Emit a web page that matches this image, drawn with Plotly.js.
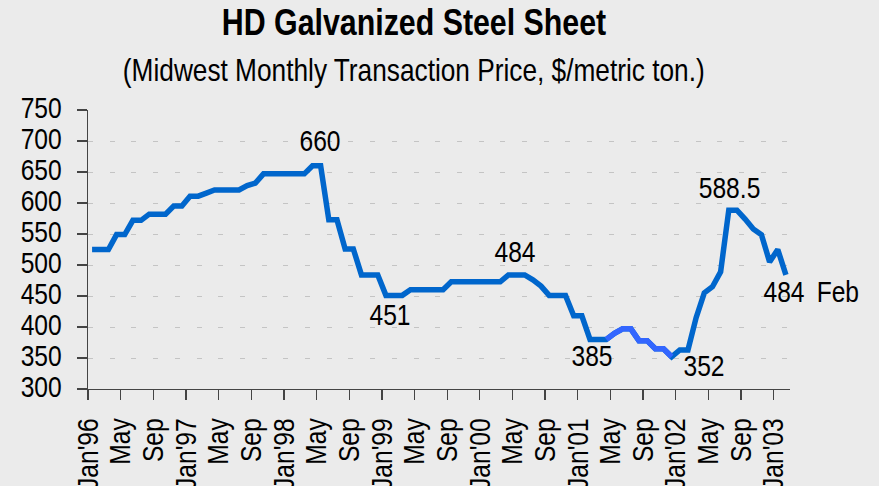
<!DOCTYPE html>
<html>
<head>
<meta charset="utf-8">
<script src="https://cdn.plot.ly/plotly-3.0.1.min.js"></script>
<style>html,body{margin:0;padding:0;background:#EBEBEB;}#chart{width:879px;height:486px;}</style>
</head>
<body>
<div id="chart"></div>
<script>
// Monthly prices, Jan 1996 .. Feb 2003 ($/metric ton)
const prices = [
  525, 525, 525, 549, 549, 572, 572, 582, 582, 582, 595, 595,   // 1996
  611, 611, 616, 621, 621, 621, 621, 628, 632, 647, 647, 647,   // 1997
  647, 647, 647, 660, 660, 573, 573, 526, 526, 484, 484, 484,   // 1998
  451, 451, 451, 460, 460, 460, 460, 460, 473, 473, 473, 473,   // 1999
  473, 473, 473, 484, 484, 484, 476, 466, 451, 451, 451, 418,   // 2000
  418, 380, 380, 380, 390, 397, 397, 378, 378, 365, 365, 352,   // 2001
  363, 363, 415, 455, 465, 489, 588.5, 588.5, 574, 558, 549, 505, // 2002
  525, 484                                                     // 2003
];
const tickLabels = ["Jan'96","May","Sep","Jan'97","May","Sep","Jan'98","May","Sep",
  "Jan'99","May","Sep","Jan'00","May","Sep","Jan'01","May","Sep","Jan'02","May","Sep","Jan'03"];
const highlightStart = 63, highlightEnd = 71; // lighter-blue stretch
const labelMonths = [28, 37, 52, 62, 71, 78, 85];
const labelTexts  = ["660", "451", "484", "385", "352", "588.5", "484"];

const FONT = '"Liberation Sans", Arial, sans-serif';
const NARROW = 0.82; // horizontal squeeze to imitate a narrow face
const xs = prices.map((_, i) => i + 0.5);

const traces = [
  {x: xs, y: prices, type: 'scatter', mode: 'lines',
   line: {color: '#0066CC', width: 5.5}, hoverinfo: 'skip'},
  {x: xs.slice(highlightStart, highlightEnd + 1), y: prices.slice(highlightStart, highlightEnd + 1),
   type: 'scatter', mode: 'lines', line: {color: '#3366FF', width: 5.5}, hoverinfo: 'skip'}
];

const shifts = [[-1, 25], [-4, -19], [-2, 23], [-6, -16], [32, -9], [1, 23], [-2, -17]];
const annotations = labelMonths.map((m, k) => ({
  x: m + 0.5, y: prices[m], xref: 'x', yref: 'y', text: labelTexts[k], showarrow: false,
  xanchor: 'center', yanchor: 'middle', xshift: shifts[k][0], yshift: shifts[k][1],
  font: {family: FONT, size: 30, color: '#000'}
}));
annotations.push({
  x: 85 + 0.5, y: prices[85], xref: 'x', yref: 'y', text: 'Feb', showarrow: false,
  xanchor: 'center', yanchor: 'middle', xshift: 52, yshift: -17,
  font: {family: FONT, size: 30, color: '#000'}
});
annotations.push({
  x: 0.4644, y: 1.1434, xref: 'paper', yref: 'paper',
  text: '(Midwest Monthly Transaction Price, $/metric ton.)', showarrow: false,
  xanchor: 'center', yanchor: 'middle',
  font: {family: FONT, size: 32, color: '#000'}
});

const layout = {
  width: 879, height: 486,
  paper_bgcolor: '#EBEBEB', plot_bgcolor: '#EBEBEB',
  margin: {l: 88, r: 89, t: 110, b: 97, pad: 0},
  showlegend: false,
  title: {text: 'HD Galvanized Steel Sheet', x: 0.471, xanchor: 'center',
          y: 1 - 22 / 486, yanchor: 'middle', yref: 'container',
          font: {family: FONT, size: 37, color: '#000', weight: 'bold'}},
  xaxis: {
    range: [0, 86], tickmode: 'array',
    tickvals: tickLabels.map((_, i) => i * 4), ticktext: tickLabels,
    tickangle: -90, showgrid: false, zeroline: false,
    showline: true, linecolor: '#444', linewidth: 1.3,
    ticks: 'outside', ticklen: 10, tickcolor: '#444', tickwidth: 1.3,
    ticklabelstandoff: 6,
    tickfont: {family: FONT, size: 30, color: '#000'}
  },
  yaxis: {
    range: [300, 750], tick0: 300, dtick: 50, zeroline: false,
    showgrid: true, gridcolor: '#C4C4C4', gridwidth: 1, griddash: '5px,16.7px',
    showline: true, linecolor: '#444', linewidth: 1.3,
    ticks: 'outside', ticklen: 10, tickcolor: '#444', tickwidth: 1.3,
    ticklabelstandoff: 9, ticklabelshift: -3,
    tickfont: {family: FONT, size: 30, color: '#000'}
  },
  annotations: annotations
};

Plotly.newPlot('chart', traces, layout, {staticPlot: true, displayModeBar: false}).then(gd => {
  gd.querySelectorAll('svg text').forEach(t => {
    if (!t.textContent.trim()) return;
    const L = t.getComputedTextLength();
    if (L > 0) {
      t.setAttribute('textLength', (L * NARROW).toFixed(2));
      t.setAttribute('lengthAdjust', 'spacingAndGlyphs');
    }
  });
});
</script>
</body>
</html>
